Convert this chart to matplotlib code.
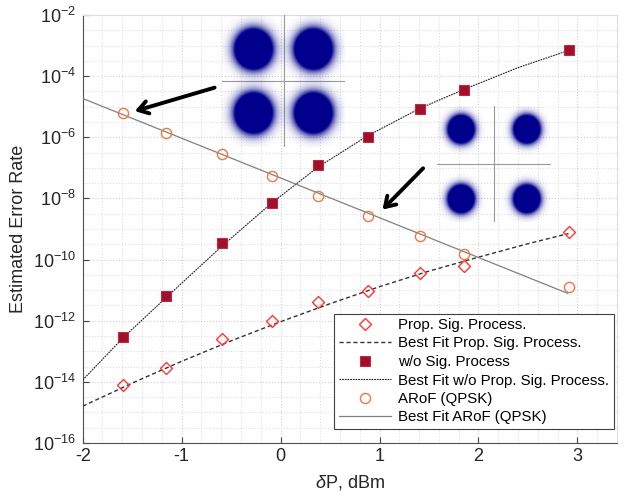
import numpy as np
import matplotlib
matplotlib.use("Agg")
import matplotlib.pyplot as plt
from matplotlib.ticker import FixedLocator, LogFormatterMathtext, NullFormatter

plt.rcParams['font.family'] = ['Liberation Sans', 'DejaVu Sans']
plt.rcParams['mathtext.fontset'] = 'custom'
plt.rcParams['mathtext.rm'] = 'Liberation Sans'
plt.rcParams['mathtext.it'] = 'Liberation Sans:italic'
plt.rcParams['mathtext.default'] = 'regular'
plt.rcParams['axes.unicode_minus'] = False

# measured points (delta P in dBm)
dP = [-1.59, -1.16, -0.59, -0.09, 0.38, 0.88, 1.41, 1.855, 2.91]
prop_sig = [7.9e-15, 2.8e-14, 2.6e-13, 9.8e-13, 4.1e-12, 9.5e-12, 3.7e-11, 6.0e-11, 7.9e-10]
wo_sig = [3.0e-13, 6.2e-12, 3.5e-10, 7.2e-9, 1.2e-7, 1.0e-6, 8.5e-6, 3.6e-5, 6.9e-4]
arof = [6.3e-6, 1.4e-6, 2.8e-7, 5.5e-8, 1.2e-8, 2.6e-9, 5.8e-10, 1.5e-10, 1.3e-11]

# best fit curves
prop_fit_x = [-2, -1.5, -1, -0.5, 0, 0.5, 1, 1.5, 2, 2.5, 2.91]
prop_fit = [1.6e-15, 9.1e-15, 4.7e-14, 2.2e-13, 9.3e-13, 3.6e-12, 1.3e-11, 4.2e-11, 1.2e-10, 3.3e-10, 7.1e-10]
wo_fit_x = [-2, -1.59, -1.16, -0.59, -0.09, 0.38, 0.88, 1.41, 1.855, 2.4, 2.91]
wo_fit = [1.15e-14, 2.8e-13, 5.6e-12, 2.8e-10, 7.1e-9, 1.07e-7, 1.12e-6, 8.9e-6, 3.7e-5, 1.9e-4, 6.9e-4]
arof_fit_x = [-2, 2.9]
arof_fit = [1.86e-5, 7.9e-12]

# QPSK constellation points for the two insets
qpsk_i = [-1, 1, -1, 1]
qpsk_q = [1, 1, -1, -1]

W, H = 636, 497
fig = plt.figure(figsize=(W / 100, H / 100), dpi=100)
ax = fig.add_axes([82.7 / W, 1 - 443 / H, (617 - 82.7) / W, (443 - 15) / H])

ax.plot(dP, prop_sig, 'D', ms=5.8, mfc='none', mec='#ff3535', mew=1.0,
        label='Prop. Sig. Process.', zorder=5)
ax.plot(prop_fit_x, prop_fit, '--', color='#333333', lw=1.0, dashes=(3, 2),
        label='Best Fit Prop. Sig. Process.', zorder=3)
ax.plot(dP, wo_sig, 's', ms=6.5, mfc='#a0102c', mec='#c02840', mew=0.8,
        label='w/o Sig. Process', zorder=5)
ax.plot(wo_fit_x, wo_fit, color='#222222', lw=0.8, dashes=(1.6, 0.8),
        label='Best Fit w/o Prop. Sig. Process.', zorder=3)
ax.plot(dP, arof, 'o', ms=7.3, mfc='none', mec='#ee7840', mew=1.0,
        label='ARoF (QPSK)', zorder=5)
ax.plot(arof_fit_x, arof_fit, '-', color='#808080', lw=0.9,
        label='Best Fit ARoF (QPSK)', zorder=3)

ax.set_yscale('log')
ax.set_xlim(-2, 3.4)
ax.set_ylim(1e-16, 1e-2)
ax.set_xticks([-2, -1, 0, 1, 2, 3])
ax.xaxis.set_minor_locator(FixedLocator(np.arange(-2, 3.41, 0.2)))
ax.yaxis.set_major_locator(FixedLocator(10.0 ** np.arange(-16, -1, 2)))
ax.yaxis.set_major_formatter(LogFormatterMathtext())
ax.yaxis.set_minor_locator(FixedLocator(10.0 ** np.arange(-16, -2, 0.5)))
ax.yaxis.set_minor_formatter(NullFormatter())
ax.tick_params(which='major', direction='in', length=4, width=0.8,
               colors='#404040', labelcolor='#262626', labelsize=13)
ax.tick_params(axis='y', which='major', pad=5)
ax.tick_params(which='minor', length=0)
ax.grid(True, which='major', color='#cfcfcf', ls=':', lw=0.8)
ax.grid(True, which='minor', color='#dedede', ls=':', lw=0.8)
for s in ['left', 'bottom']:
    ax.spines[s].set_color('#505050')
for s in ['top', 'right']:
    ax.spines[s].set_color('#dddddd')

ax.set_xlabel('$\\it{\\delta}$P, dBm', fontsize=13, color='#262626', labelpad=6)
ax.set_ylabel('Estimated Error Rate', fontsize=13, color='#262626', labelpad=4)

leg = ax.legend(loc='lower right', bbox_to_anchor=((614 - 82.7) / (617 - 82.7), (443 - 429) / 428),
                borderaxespad=0, fontsize=10.8, handlelength=3.5, handletextpad=0.5,
                labelspacing=0.3, fancybox=False, framealpha=1, edgecolor='#404040',
                borderpad=0.3)
leg.get_frame().set_linewidth(0.8)

# arrows pointing at the constellations' operating points
ax.annotate('', xy=(-1.50, 10 ** -5.17), xytext=(-0.64, 10 ** -4.35),
            arrowprops=dict(arrowstyle='->, head_length=0.7, head_width=0.45', lw=2.8, color='black'))
ax.annotate('', xy=(1.01, 10 ** -8.43), xytext=(1.46, 10 ** -6.95),
            arrowprops=dict(arrowstyle='->, head_length=0.7, head_width=0.45', lw=2.8, color='black'))


def constellation(rect, half_x, half_y, sigma):
    ins = fig.add_axes(rect)
    ins.set_xlim(-half_x, half_x)
    ins.set_ylim(-half_y, half_y)
    gx, gy = np.meshgrid(np.linspace(-half_x, half_x, 300), np.linspace(-half_y, half_y, 300))
    dens = np.zeros_like(gx)
    for i, q in zip(qpsk_i, qpsk_q):
        dens += np.exp(-((gx - i) ** 2 + (gy - q) ** 2) / (2 * sigma ** 2))
    rgba = np.zeros(gx.shape + (4,))
    rgba[..., 2] = 0.55
    rgba[..., 3] = np.clip(dens * 6.0, 0, 1)
    ins.imshow(rgba, extent=(-half_x, half_x, -half_y, half_y), origin='lower',
               aspect='auto', interpolation='bilinear', zorder=2)
    ins.axhline(0, color='#9a9a9a', lw=0.8, zorder=1)
    ins.axvline(0, color='#9a9a9a', lw=0.8, zorder=1)
    ins.axis('off')
    ins.patch.set_visible(True)
    ins.set_facecolor('white')
    return ins


in1 = constellation([222 / W, 1 - 147 / H, 123 / W, 132 / H], 2.05, 2.06, 0.33)
in2 = constellation([437 / W, 1 - 222 / H, 114 / W, 116 / H], 1.73, 1.66, 0.21)

fig.savefig('out.png', dpi=100)
